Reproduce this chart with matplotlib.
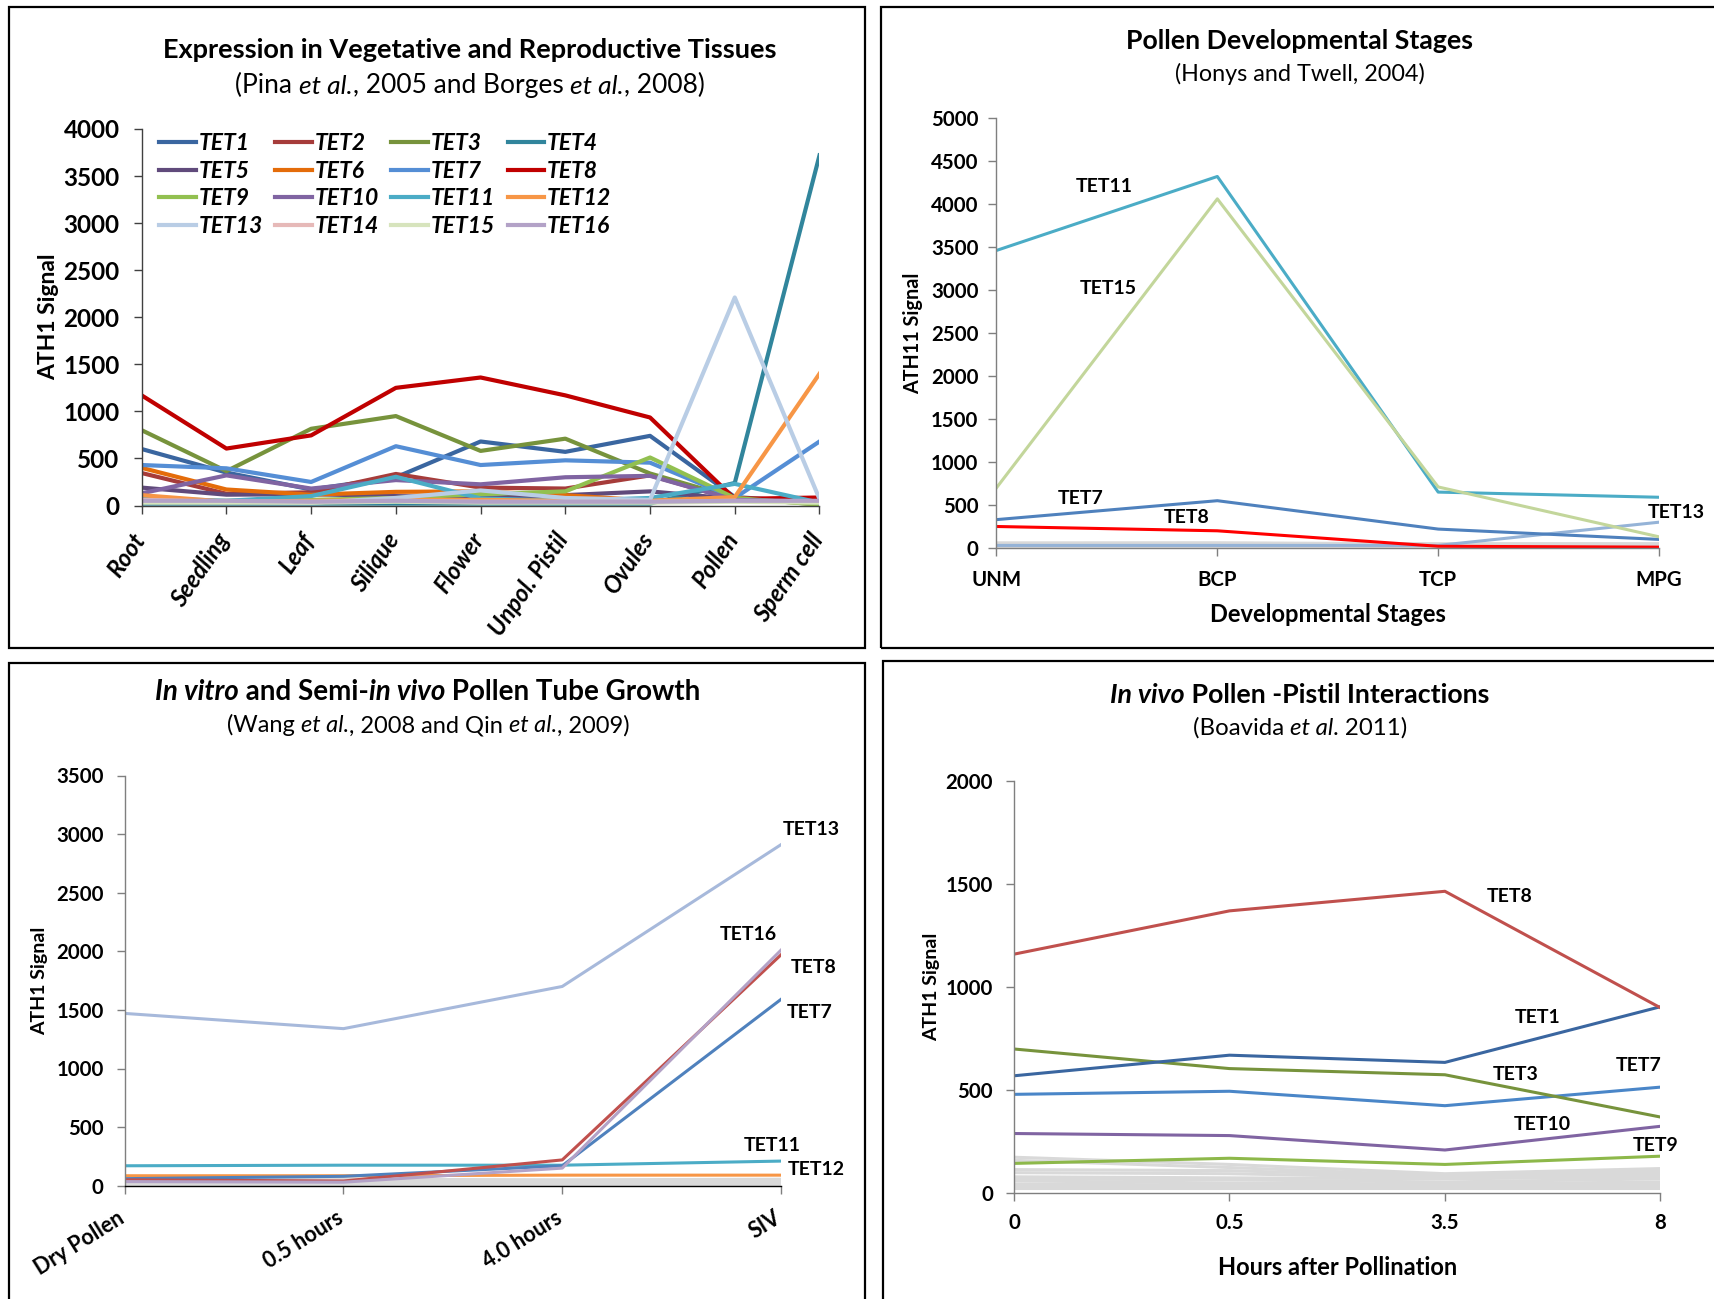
import numpy as np
import matplotlib
matplotlib.use("Agg")
import matplotlib.pyplot as plt
from matplotlib.patches import Rectangle
from matplotlib.font_manager import FontProperties
from matplotlib.transforms import ScaledTranslation

plt.rcParams['font.family'] = ['Lato', 'DejaVu Sans']

# ---- tissues (Pina 2005 / Borges 2008) ----
tissues = ["Root", "Seedling", "Leaf", "Silique", "Flower", "Unpol. Pistil",
           "Ovules", "Pollen", "Sperm cell"]
tissue_expr = {
    "TET1":  [600, 350, 170, 300, 680, 570, 740, 90, 30],
    "TET2":  [345, 125, 140, 335, 190, 180, 320, 60, 40],
    "TET3":  [800, 365, 815, 950, 580, 710, 340, 80, 10],
    "TET4":  [20, 20, 20, 20, 20, 20, 20, 240, 3720],
    "TET5":  [190, 115, 120, 100, 80, 110, 150, 70, 30],
    "TET6":  [400, 170, 115, 145, 150, 110, 50, 80, 40],
    "TET7":  [430, 395, 250, 630, 430, 480, 455, 80, 680],
    "TET8":  [1170, 605, 745, 1250, 1360, 1170, 935, 70, 85],
    "TET9":  [50, 50, 60, 80, 120, 150, 510, 80, 10],
    "TET10": [130, 320, 180, 270, 225, 300, 315, 60, 40],
    "TET11": [80, 50, 100, 305, 75, 50, 80, 230, 30],
    "TET12": [110, 40, 50, 60, 60, 50, 50, 90, 1400],
    "TET13": [40, 40, 30, 80, 160, 80, 60, 2210, 70],
    "TET14": [60, 40, 40, 50, 40, 40, 40, 50, 40],
    "TET15": [30, 30, 30, 40, 30, 30, 30, 40, 30],
    "TET16": [50, 50, 40, 50, 40, 40, 40, 50, 50],
}
tissue_colors = {
    "TET1": "#3a66a0", "TET2": "#a63c3a", "TET3": "#77933c", "TET4": "#31859c",
    "TET5": "#604a7b", "TET6": "#e46c0a", "TET7": "#558ed5", "TET8": "#c00000",
    "TET9": "#92c050", "TET10": "#8064a2", "TET11": "#4bacc6", "TET12": "#f79646",
    "TET13": "#b9cde5", "TET14": "#e6b9b8", "TET15": "#d7e4bd", "TET16": "#b3a2c7",
}

# ---- pollen development (Honys and Twell 2004) ----
stages = ["UNM", "BCP", "TCP", "MPG"]
stage_expr = {
    "TET11": [3460, 4320, 650, 590],
    "TET15": [700, 4060, 710, 130],
    "TET7":  [330, 550, 220, 100],
    "TET8":  [250, 200, 20, 10],
    "TET13": [30, 30, 30, 300],
}
stage_colors = {"TET11": "#4bacc6", "TET15": "#c3d69b", "TET7": "#4f81bd",
                "TET8": "#ff0000", "TET13": "#95b3d7"}
stage_other = [[60, 60, 50, 50], [50, 55, 45, 45], [45, 40, 40, 40],
               [40, 45, 35, 35], [35, 35, 30, 30], [30, 30, 25, 30],
               [25, 25, 20, 25], [20, 20, 20, 20], [15, 15, 15, 15],
               [10, 10, 10, 10], [5, 5, 5, 5]]

# ---- pollen tube growth (Wang 2008 / Qin 2009) ----
tube_times = ["Dry Pollen", "0.5 hours", "4.0 hours", "SIV"]
tube_expr = {
    "TET13": [1470, 1340, 1700, 2910],
    "TET11": [170, 175, 175, 210],
    "TET12": [85, 85, 90, 90],
    "TET7":  [60, 80, 170, 1590],
    "TET8":  [50, 40, 220, 1970],
    "TET16": [35, 30, 150, 2010],
}
tube_colors = {"TET13": "#a7b9db", "TET11": "#4bacc6", "TET12": "#f79646",
               "TET7": "#4f81bd", "TET8": "#c0504d", "TET16": "#b3a2c7"}
tube_other = [[60, 55, 50, 55], [50, 50, 45, 50], [45, 40, 40, 45],
              [40, 35, 35, 40], [30, 30, 30, 35], [25, 25, 25, 30],
              [20, 20, 20, 25], [15, 15, 15, 20], [10, 10, 10, 15], [5, 5, 5, 10]]

# ---- in vivo pollen-pistil (Boavida 2011) ----
hours = ["0", "0.5", "3.5", "8"]
vivo_expr = {
    "TET8":  [1160, 1370, 1465, 900],
    "TET1":  [570, 670, 635, 905],
    "TET3":  [700, 605, 575, 370],
    "TET7":  [480, 495, 425, 515],
    "TET10": [290, 280, 210, 325],
    "TET9":  [145, 170, 140, 180],
}
vivo_colors = {"TET8": "#c0504d", "TET1": "#3a66a0", "TET3": "#77933c",
               "TET7": "#4a86c8", "TET10": "#8064a2", "TET9": "#8db84a"}
vivo_other = [[175, 140, 95, 120], [160, 125, 85, 110], [115, 110, 80, 100],
              [100, 95, 75, 90], [80, 75, 70, 80], [70, 65, 55, 70],
              [60, 50, 45, 55], [45, 40, 35, 45], [35, 30, 30, 35], [25, 25, 25, 25]]

W, H = 1715, 1299
fig = plt.figure(figsize=(W / 100, H / 100), dpi=100)
renderer = fig.canvas.get_renderer()


def px_axes(left, top, right, bottom):
    return fig.add_axes([left / W, 1 - bottom / H, (right - left) / W, (bottom - top) / H])


def frame(left, top, right, bottom):
    fig.add_artist(Rectangle((left / W, 1 - bottom / H), (right - left) / W,
                             (bottom - top) / H, transform=fig.transFigure,
                             fill=False, ec="black", lw=1.6, clip_on=False))


def rich(xc, yc, parts, size, weight="normal"):
    # centred line of text made of (string, style) runs
    yb = 1 - (yc + 0.36 * size * 100 / 72) / H
    widths = []
    for s, st in parts:
        fp = FontProperties(size=size, weight=weight, style=st)
        w1 = renderer.get_text_width_height_descent(s + "x", fp, ismath=False)[0]
        w2 = renderer.get_text_width_height_descent("x", fp, ismath=False)[0]
        widths.append(w1 - w2)
    x = xc - sum(widths) / 2
    for (s, st), w in zip(parts, widths):
        fig.text(x / W, yb, s, fontsize=size, fontweight=weight, style=st,
                 ha="left", va="baseline")
        x += w


def base_style(ax, axis_color="#7f7f7f"):
    for sp in ("top", "right"):
        ax.spines[sp].set_visible(False)
    for sp in ("left", "bottom"):
        ax.spines[sp].set_color(axis_color)
        ax.spines[sp].set_linewidth(1.0)
    ax.tick_params(direction="out", length=6, width=1.0, color=axis_color)


def nudge(labels, dx, dy):
    off = ScaledTranslation(dx / 100, dy / 100, fig.dpi_scale_trans)
    for lab in labels:
        lab.set_transform(lab.get_transform() + off)


def label_lines(ax, spots, size=14):
    for name, (tx, ty) in spots.items():
        ax.text(tx, ty, name, fontsize=size, fontweight="bold", ha="center", va="center")


frame(9, 7, 865, 648)
frame(881, 7, 1730, 648)
frame(9, 663, 865, 1320)
frame(883, 661, 1730, 1320)

# ---------------- panel 1 ----------------
ax1 = px_axes(141.7, 129, 819.5, 505.5)
xi = np.arange(len(tissues))
lines = {}
for name, vals in tissue_expr.items():
    lines[name], = ax1.plot(xi, vals, color=tissue_colors[name], lw=3.0, label=name)
ax1.set_xlim(0, len(tissues) - 1)
ax1.set_ylim(0, 4000)
ax1.set_yticks(np.arange(0, 4001, 500))
ax1.set_xticks(xi)
base_style(ax1, "#404040")
ax1.set_xticklabels(tissues, rotation=55, ha="right", va="top", rotation_mode="anchor",
                    fontsize=17, fontweight="bold", style="italic")
ax1.tick_params(axis="x", pad=13)
ax1.tick_params(axis="y", pad=10)
nudge(ax1.get_xticklabels(), -11, 3)
for lab in ax1.get_yticklabels():
    lab.set_fontsize(17.5)
    lab.set_fontweight("bold")
ax1.set_ylabel("ATH1 Signal", fontsize=16.5, fontweight="bold", labelpad=3)
names = list(tissue_expr.keys())
order = [names[r * 4 + c] for c in range(4) for r in range(4)]
ax1.legend([lines[n] for n in order], order, ncol=4, loc="upper left",
           bbox_to_anchor=(-0.005, 1.045), frameon=False, handlelength=1.6,
           handletextpad=0.12, columnspacing=0.55, labelspacing=0.3,
           prop={"size": 16.5, "weight": "bold", "style": "italic"})
rich(470, 48, [("Expression in Vegetative and Reproductive Tissues", "normal")],
     19.5, "bold")
rich(470, 84, [("(Pina ", "normal"), ("et al.", "italic"), (", 2005 and Borges ", "normal"),
               ("et al.", "italic"), (", 2008)", "normal")], 19)

# ---------------- panel 2 ----------------
ax2 = px_axes(996.5, 118, 1659, 548)
xs = np.arange(len(stages))
for vals in stage_other:
    ax2.plot(xs, vals, color="#d9d9d9", lw=2.2)
for name in ["TET13", "TET8", "TET7", "TET11", "TET15"]:
    ax2.plot(xs, stage_expr[name], color=stage_colors[name], lw=2.2)
ax2.set_xlim(0, 3)
ax2.set_ylim(0, 5000)
ax2.set_yticks(np.arange(0, 5001, 500))
ax2.set_xticks(xs)
ax2.set_xticklabels(stages)
base_style(ax2)
ax2.tick_params(labelsize=14.7)
ax2.tick_params(axis="x", pad=10)
ax2.tick_params(axis="y", pad=7)
for lab in ax2.get_xticklabels() + ax2.get_yticklabels():
    lab.set_fontweight("bold")
ax2.set_xlabel("Developmental Stages", fontsize=17, fontweight="bold", labelpad=9)
ax2.set_ylabel("ATH11 Signal", fontsize=14.2, fontweight="bold", labelpad=6)
label_lines(ax2, {"TET11": (0.49, 4209), "TET15": (0.505, 3012),
                  "TET7": (0.38, 581), "TET8": (0.86, 349), "TET13": (3.08, 407)})
rich(1300, 39, [("Pollen Developmental Stages", "normal")], 19.2, "bold")
rich(1300, 73, [("(Honys and Twell, 2004)", "normal")], 16.8)

# ---------------- panel 3 ----------------
ax3 = px_axes(124.7, 775.5, 781, 1185.7)
xt = np.arange(len(tube_times))
for vals in tube_other:
    ax3.plot(xt, vals, color="#d9d9d9", lw=2.2)
for name in ["TET12", "TET11", "TET7", "TET8", "TET16", "TET13"]:
    ax3.plot(xt, tube_expr[name], color=tube_colors[name], lw=2.2)
ax3.set_xlim(0, 3)
ax3.set_ylim(0, 3500)
ax3.set_yticks(np.arange(0, 3501, 500))
ax3.set_xticks(xt)
base_style(ax3)
ax3.spines["bottom"].set_color("black")
ax3.set_xticklabels(tube_times, rotation=32, ha="right", va="top", rotation_mode="anchor",
                    fontsize=15.5, fontweight="bold")
ax3.tick_params(axis="x", pad=11)
ax3.tick_params(axis="y", pad=9)
nudge(ax3.get_xticklabels(), -8, 2)
for lab in ax3.get_yticklabels():
    lab.set_fontsize(14.7)
    lab.set_fontweight("bold")
ax3.set_ylabel("ATH1 Signal", fontsize=14, fontweight="bold", labelpad=6)
label_lines(ax3, {"TET13": (3.14, 3035), "TET16": (2.85, 2140),
                  "TET8": (3.15, 1866), "TET7": (3.13, 1474),
                  "TET11": (2.96, 346), "TET12": (3.16, 134)})
rich(428, 690, [("In vitro", "italic"), (" and Semi-", "normal"), ("in vivo", "italic"),
                (" Pollen Tube Growth", "normal")], 20, "bold")
rich(428, 724, [("(Wang ", "normal"), ("et al.", "italic"), (", 2008 and Qin ", "normal"),
                ("et al.", "italic"), (", 2009)", "normal")], 17)

# ---------------- panel 4 ----------------
ax4 = px_axes(1014, 781, 1660.4, 1193.3)
xh = np.arange(len(hours))
for vals in vivo_other:
    ax4.plot(xh, vals, color="#d9d9d9", lw=2.2)
for name in ["TET9", "TET10", "TET7", "TET3", "TET1", "TET8"]:
    ax4.plot(xh, vivo_expr[name], color=vivo_colors[name], lw=2.2)
ax4.set_xlim(0, 3)
ax4.set_ylim(0, 2000)
ax4.set_yticks(np.arange(0, 2001, 500))
ax4.set_xticks(xh)
ax4.set_xticklabels(hours)
base_style(ax4)
ax4.tick_params(labelsize=14.7)
ax4.tick_params(axis="x", pad=8)
ax4.tick_params(axis="y", pad=9)
for lab in ax4.get_xticklabels() + ax4.get_yticklabels():
    lab.set_fontweight("bold")
ax4.set_xlabel("Hours after Pollination", fontsize=17, fontweight="bold", labelpad=17)
ax4.set_ylabel("ATH1 Signal", fontsize=14, fontweight="bold", labelpad=4)
label_lines(ax4, {"TET8": (2.30, 1442), "TET1": (2.43, 855), "TET3": (2.33, 574),
                  "TET7": (2.90, 618), "TET10": (2.45, 336), "TET9": (2.98, 230)})
rich(1300, 693, [("In vivo", "italic"), (" Pollen -Pistil Interactions", "normal")],
     19.3, "bold")
rich(1300, 726, [("(Boavida ", "normal"), ("et al", "italic"), (". 2011)", "normal")], 17.3)

fig.savefig("out.png", dpi=100)
